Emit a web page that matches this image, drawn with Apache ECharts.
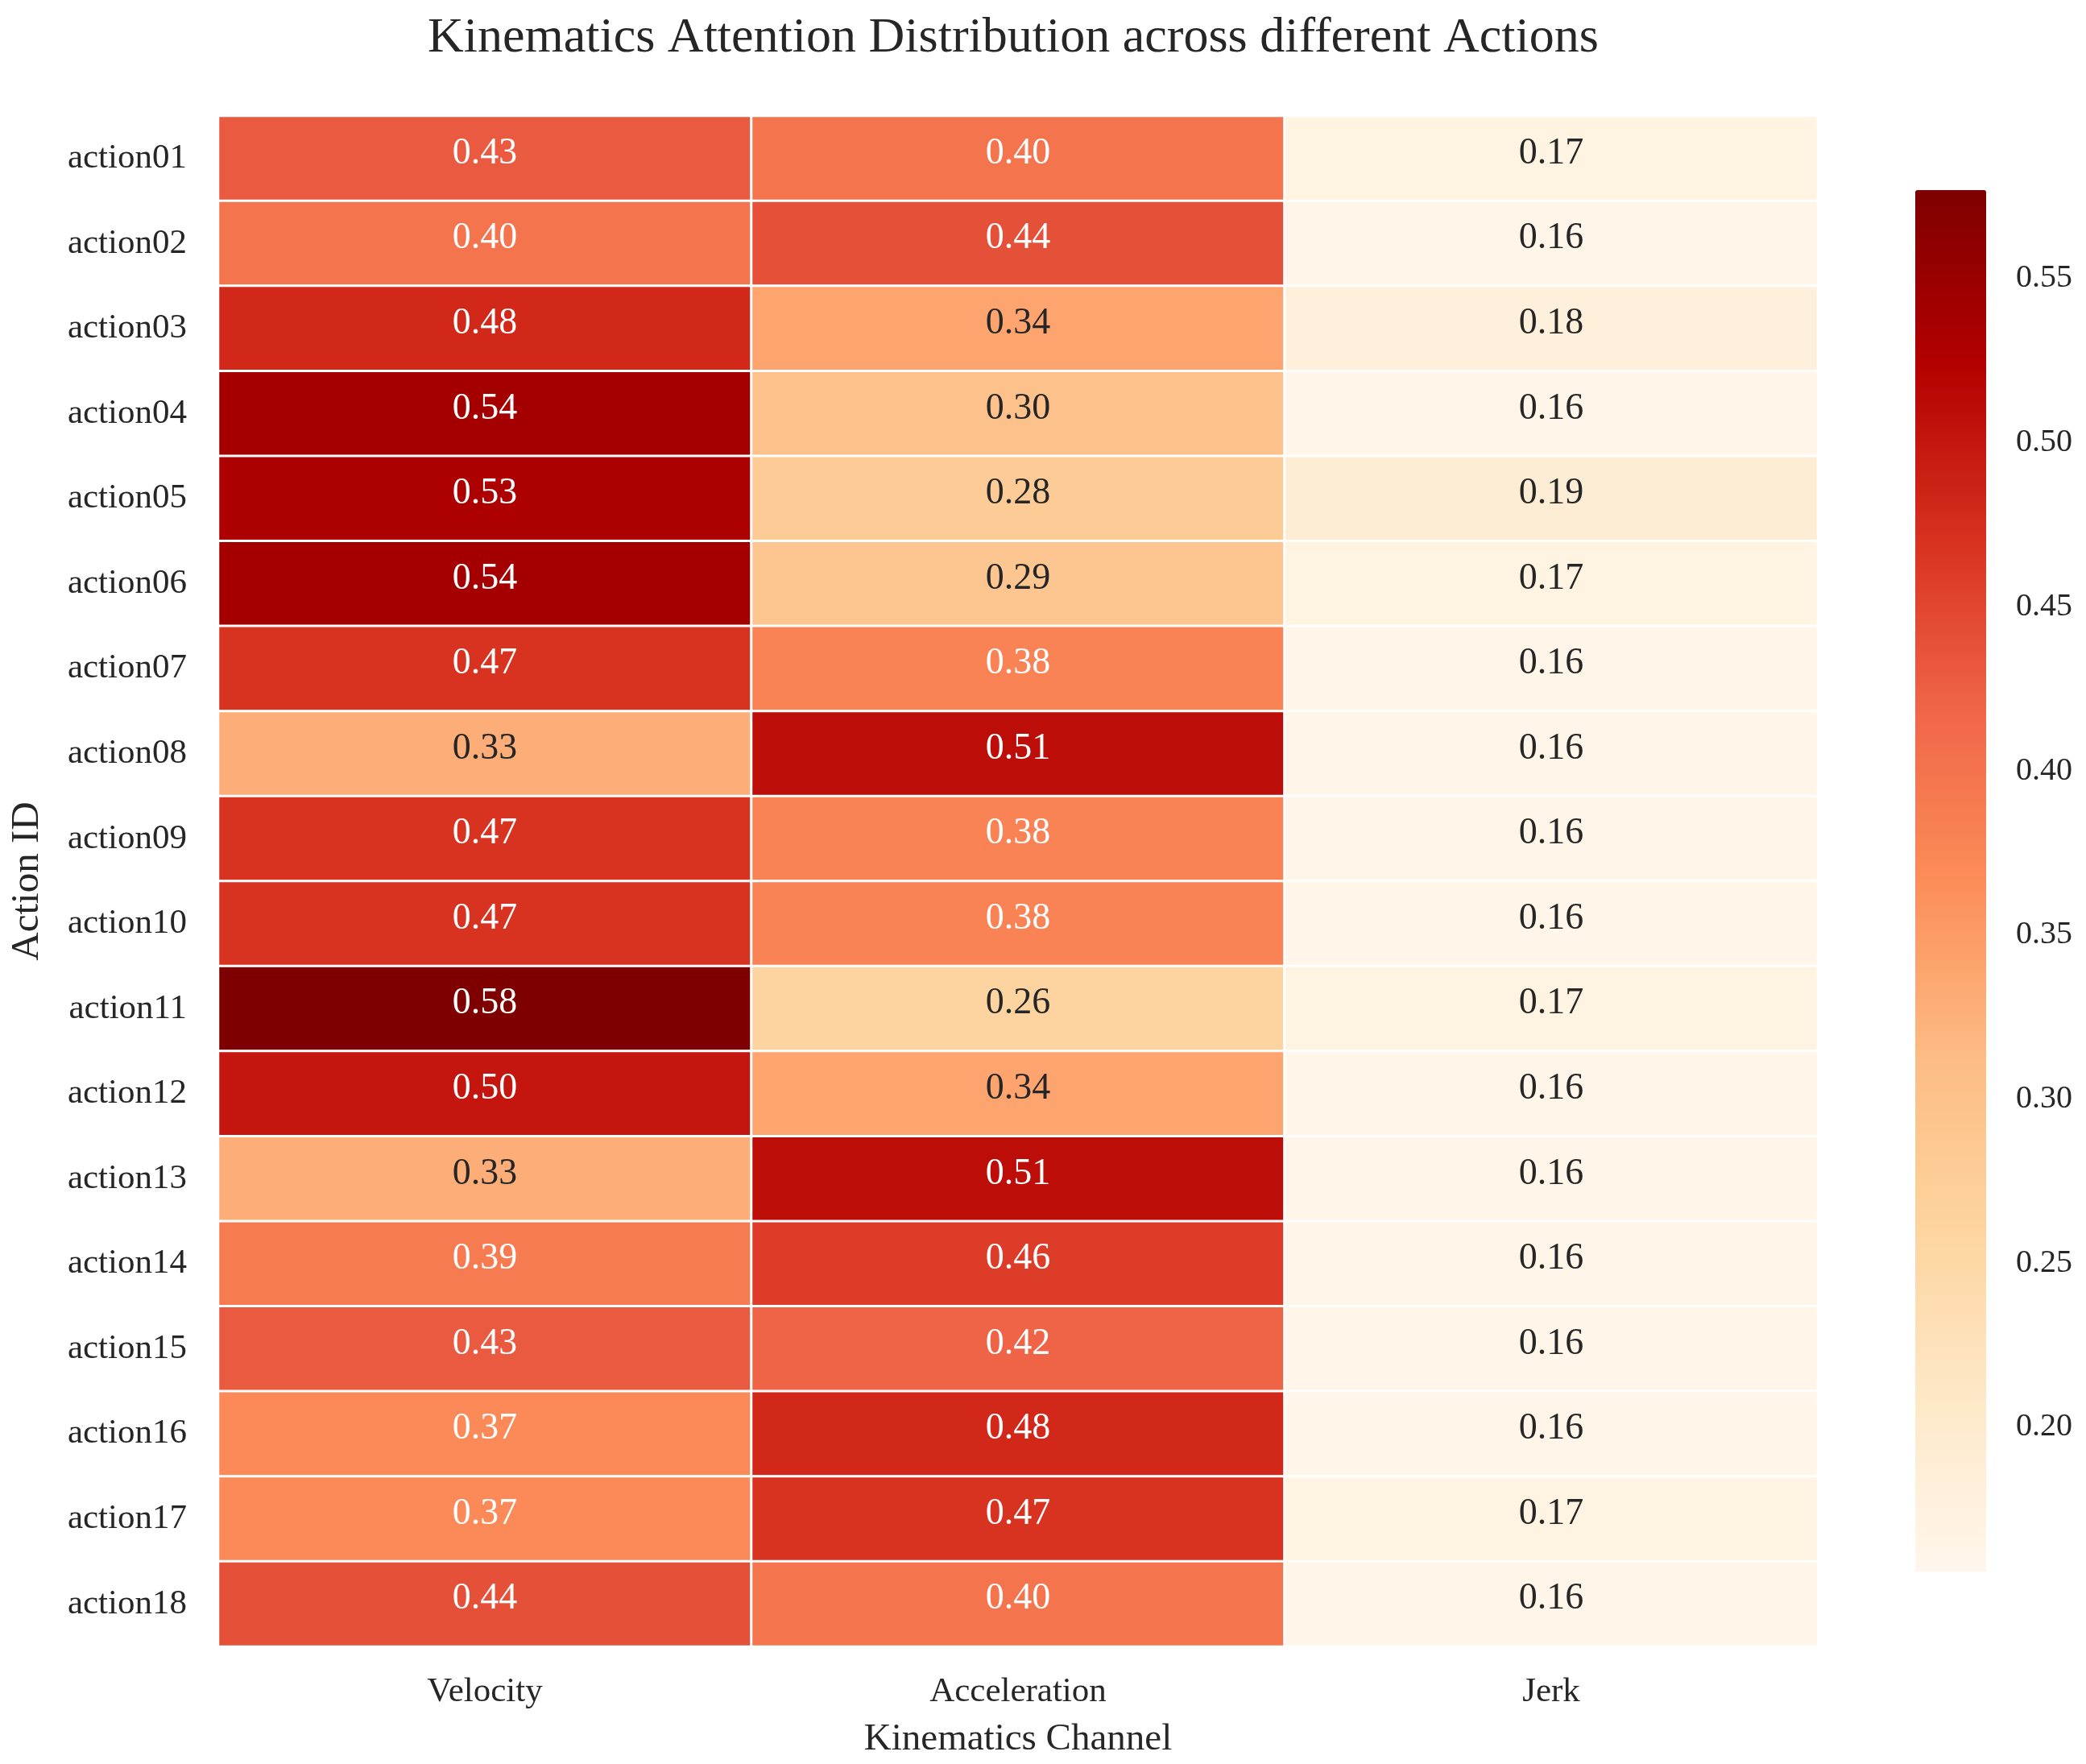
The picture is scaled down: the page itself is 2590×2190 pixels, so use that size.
<!DOCTYPE html>
<html>
<head>
<meta charset="utf-8">
<title>Kinematics Attention Distribution</title>
<script src="https://cdn.jsdelivr.net/npm/echarts@6/dist/echarts.min.js"></script>
<style>
  html, body { margin: 0; padding: 0; background: #fff; }
  #chart { width: 2590px; height: 2190px; }
</style>
</head>
<body>
<div id="chart"></div>
<script>
const actions = ['action01', 'action02', 'action03', 'action04', 'action05', 'action06',
  'action07', 'action08', 'action09', 'action10', 'action11', 'action12',
  'action13', 'action14', 'action15', 'action16', 'action17', 'action18'];
const channels = ['Velocity', 'Acceleration', 'Jerk'];

const velocity = [0.43, 0.40, 0.48, 0.54, 0.53, 0.54, 0.47, 0.33, 0.47,
  0.47, 0.58, 0.50, 0.33, 0.39, 0.43, 0.37, 0.37, 0.44];
const acceleration = [0.40, 0.44, 0.34, 0.30, 0.28, 0.29, 0.38, 0.51, 0.38,
  0.38, 0.26, 0.34, 0.51, 0.46, 0.42, 0.48, 0.47, 0.40];
const jerk = [0.17, 0.16, 0.18, 0.16, 0.19, 0.17, 0.16, 0.16, 0.16,
  0.16, 0.17, 0.16, 0.16, 0.16, 0.16, 0.16, 0.17, 0.16];

// colour bar range and ticks
const colorMin = 0.156;
const colorMax = 0.577;
const colorTicks = [0.20, 0.25, 0.30, 0.35, 0.40, 0.45, 0.50, 0.55];

const orRd = ['#fff7ec', '#fee8c8', '#fdd49e', '#fdbb84', '#fc8d59',
  '#ef6548', '#d7301f', '#b30000', '#7f0000'];

const font = 'Liberation Serif, Times New Roman, serif';
const textColor = '#262626';

const columns = [velocity, acceleration, jerk];
const cells = [];
columns.forEach((col, x) => {
  col.forEach((v, y) => {
    cells.push({
      value: [x, y, v],
      label: { color: v > 0.355 ? '#ffffff' : textColor }
    });
  });
});

const chart = echarts.init(document.getElementById('chart'));

chart.setOption({
  backgroundColor: '#ffffff',
  animation: false,
  title: {
    text: 'Kinematics Attention Distribution across different Actions',
    left: 526,
    top: 12,
    textStyle: { fontFamily: font, fontSize: 62, fontWeight: 'normal', color: textColor }
  },
  grid: [
    { left: 271, top: 144, width: 1986, height: 1900 },
    { left: 2378, top: 236, width: 88, height: 1715, show: false }
  ],
  xAxis: [
    {
      type: 'category',
      data: channels,
      position: 'bottom',
      axisLine: { show: false },
      axisTick: { show: false },
      splitLine: { show: false },
      axisLabel: { fontFamily: font, fontSize: 43, color: textColor, margin: 35 },
      name: 'Kinematics Channel',
      nameLocation: 'middle',
      nameGap: 92,
      nameTextStyle: { fontFamily: font, fontSize: 47, color: textColor }
    },
    { type: 'value', gridIndex: 1, show: false, min: 0, max: 1 }
  ],
  yAxis: [
    {
      type: 'category',
      data: actions,
      inverse: true,
      axisLine: { show: false },
      axisTick: { show: false },
      splitLine: { show: false },
      axisLabel: { fontFamily: font, fontSize: 43, color: textColor, margin: 39 },
      name: 'Action ID',
      nameLocation: 'middle',
      nameGap: 212,
      nameRotate: 90,
      nameTextStyle: { fontFamily: font, fontSize: 49, color: textColor }
    },
    {
      type: 'value',
      gridIndex: 1,
      position: 'right',
      min: colorMin,
      max: colorMax,
      axisLine: { show: false },
      splitLine: { show: false },
      axisTick: {
        show: true,
        customValues: colorTicks,
        length: 23,
        lineStyle: { color: '#333333', width: 4 }
      },
      axisLabel: {
        customValues: colorTicks,
        formatter: (v) => v.toFixed(2),
        fontFamily: font,
        fontSize: 40,
        color: textColor,
        margin: 37
      }
    }
  ],
  visualMap: {
    type: 'continuous',
    seriesIndex: 0,
    min: colorMin,
    max: colorMax,
    orient: 'vertical',
    left: 2378,
    top: 236,
    itemWidth: 88,
    itemHeight: 1715,
    padding: 0,
    calculable: false,
    hoverLink: false,
    text: null,
    showLabel: false,
    inRange: { color: orRd }
  },
  series: [
    {
      type: 'heatmap',
      xAxisIndex: 0,
      yAxisIndex: 0,
      data: cells,
      itemStyle: { borderColor: '#ffffff', borderWidth: 3 },
      label: {
        show: true,
        formatter: (p) => p.value[2].toFixed(2),
        fontFamily: font,
        fontSize: 46,
        offset: [0, -6]
      },
      emphasis: { disabled: true }
    },
    {
      type: 'scatter',
      xAxisIndex: 1,
      yAxisIndex: 1,
      data: [],
      silent: true
    }
  ]
});
</script>
</body>
</html>
